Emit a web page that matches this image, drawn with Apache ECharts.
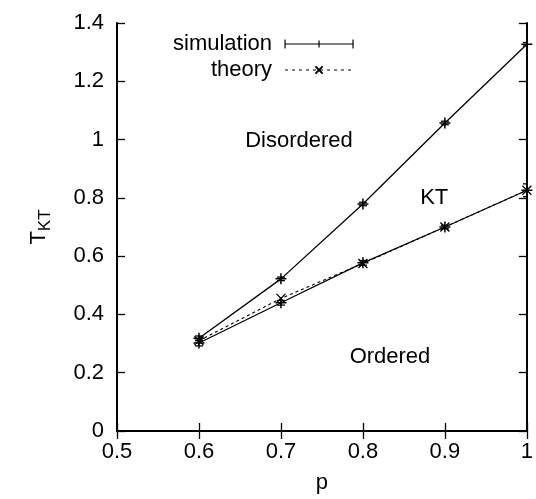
<!DOCTYPE html>
<html><head><meta charset="utf-8">
<script src="https://cdn.jsdelivr.net/npm/echarts@6/dist/echarts.min.js"></script>
<style>html,body{margin:0;padding:0;background:#fff}#c{width:536px;height:499px}</style>
</head><body><div id="c"></div>
<script>
const pValues = [0.6, 0.7, 0.8, 0.9, 1.0];
const simUpper = [0.318, 0.522, 0.779, 1.057, 1.327];
const simUpperErr = [0.008, 0.006, 0.006, 0.006, 0.006];
const simLower = [0.302, 0.440, 0.577, 0.700, 0.826];
const simLowerErr = [0.010, 0.008, 0.008, 0.006, 0.022];
const theory = [0.310, 0.455, 0.575, 0.700, 0.826];
const xTicks = [0.5, 0.6, 0.7, 0.8, 0.9, 1];
const yTicks = [0, 0.2, 0.4, 0.6, 0.8, 1, 1.2, 1.4];
const regionLabels = [
  {text: 'Disordered', x: 0.722, y: 0.995},
  {text: 'KT', x: 0.887, y: 0.80},
  {text: 'Ordered', x: 0.833, y: 0.254}
];

const FONT = 'Liberation Sans, Arial, sans-serif';
const FS = 22;
const plusPath = 'path://M0,5L10,5M5,0L5,10';
const crossPath = 'path://M0,0L10,10M10,0L0,10';

const simData = [];
pValues.forEach((p, i) => simData.push([p, simUpper[i]]));
simData.push('-');
pValues.forEach((p, i) => simData.push([p, simLower[i]]));
const theoryData = pValues.map((p, i) => [p, theory[i]]);
const errData = [];
pValues.forEach((p, i) => errData.push([p, simUpper[i] - simUpperErr[i], simUpper[i] + simUpperErr[i]]));
pValues.forEach((p, i) => errData.push([p, simLower[i] - simLowerErr[i], simLower[i] + simLowerErr[i]]));

const chart = echarts.init(document.getElementById('c'), null, {renderer: 'canvas'});
const axisCommon = {
  axisLine: {show: true, lineStyle: {color: '#000', width: 2}},
  axisTick: {show: true, inside: true, length: 8, lineStyle: {color: '#000', width: 1.3}},
  splitLine: {show: false},
  axisLabel: {color: '#000', fontSize: FS, fontFamily: FONT}
};
const fmt = v => String(+v.toFixed(1));
chart.setOption({
  backgroundColor: '#fff',
  animation: false,
  grid: {left: 117, right: 8, top: 23, bottom: 68},
  legend: {
    orient: 'vertical', left: 168, top: 28, itemGap: 4, align: 'right',
    itemWidth: 68, itemHeight: 9,
    textStyle: {fontSize: FS, fontFamily: FONT, color: '#000', width: 110, align: 'right', padding: [0, 8, 0, 0]},
    data: [
      {name: 'simulation', icon: 'path://M0,0L0,9M0,4.5L68,4.5M68,0L68,9M34,1L34,8',
       itemStyle: {color: 'none', borderColor: '#000', borderWidth: 1.2}},
      {name: 'theory', lineStyle: {width: 1, type: [3, 4]}}
    ]
  },
  xAxis: [Object.assign({}, axisCommon, {
    type: 'value', min: 0.5, max: 1, interval: 0.1,
    name: 'p', nameLocation: 'middle', nameGap: 41,
    nameTextStyle: {fontSize: FS, fontFamily: FONT, color: '#000'},
    axisLabel: Object.assign({}, axisCommon.axisLabel, {margin: 10, formatter: fmt})
  }), Object.assign({}, axisCommon, {
    type: 'value', min: 0.5, max: 1, interval: 0.1, position: 'top',
    axisLabel: {show: false}
  })],
  yAxis: [Object.assign({}, axisCommon, {
    type: 'value', min: 0, max: 1.4, interval: 0.2,
    name: '{a|T}{b|KT}', nameLocation: 'middle', nameGap: 63, nameRotate: 90,
    nameTextStyle: {rich: {
      a: {fontSize: FS, fontFamily: FONT, color: '#000'},
      b: {fontSize: 17, fontFamily: FONT, color: '#000', padding: [14, 0, 0, 0]}
    }},
    axisLabel: Object.assign({}, axisCommon.axisLabel, {margin: 13, formatter: fmt})
  }), Object.assign({}, axisCommon, {
    type: 'value', min: 0, max: 1.4, interval: 0.2, position: 'right',
    axisLabel: {show: false}
  })],
  series: [
    {
      name: 'simulation', type: 'line', data: simData, connectNulls: false,
      symbol: plusPath, symbolSize: 11,
      lineStyle: {color: '#000', width: 1.3},
      itemStyle: {color: 'none', borderColor: '#000', borderWidth: 1.5},
      markPoint: {
        symbol: 'circle', symbolSize: 0,
        label: {show: true, color: '#000', fontSize: FS, fontFamily: FONT, position: 'inside'},
        data: regionLabels.map(r => ({coord: [r.x, r.y], value: r.text, label: {formatter: r.text}}))
      }
    },
    {
      name: 'simulation', type: 'custom', data: errData, clip: true,
      encode: {x: 0, y: [1, 2]},
      renderItem: function (params, api) {
        const lo = api.coord([api.value(0), api.value(1)]);
        const hi = api.coord([api.value(0), api.value(2)]);
        const w = 4;
        const st = {stroke: '#000', lineWidth: 1.3, fill: null};
        return {type: 'group', children: [
          {type: 'line', shape: {x1: lo[0], y1: lo[1], x2: hi[0], y2: hi[1]}, style: st},
          {type: 'line', shape: {x1: lo[0] - w, y1: lo[1], x2: lo[0] + w, y2: lo[1]}, style: st},
          {type: 'line', shape: {x1: hi[0] - w, y1: hi[1], x2: hi[0] + w, y2: hi[1]}, style: st}
        ]};
      }
    },
    {
      name: 'theory', type: 'line', data: theoryData,
      symbol: crossPath, symbolSize: 9,
      lineStyle: {color: '#000', width: 1.1, type: [3, 3]},
      itemStyle: {color: 'none', borderColor: '#000', borderWidth: 1.3}
    }
  ]
});
</script></body></html>
